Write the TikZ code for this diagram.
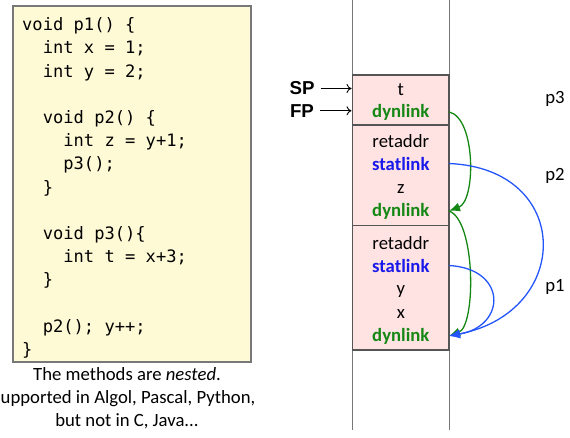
\documentclass[tikz,border=0pt]{standalone}
\usepackage{fontspec}
\setmainfont{Carlito}
\setmonofont{DejaVu Sans Mono}
\newfontfamily\arialfont{Liberation Sans}
\usetikzlibrary{arrows.meta}
\definecolor{codebg}{RGB}{255,250,214}
\definecolor{codeedge}{RGB}{120,120,120}
\definecolor{framebg}{RGB}{255,226,226}
\definecolor{frameedge}{RGB}{85,85,85}
\definecolor{dyngreen}{RGB}{20,135,20}
\definecolor{statblue}{RGB}{25,25,235}
\definecolor{linkblue}{RGB}{35,85,250}
\newcommand{\ind}{\phantom{xx}}
\begin{document}
\begin{tikzpicture}[x=1pt,y=-1pt,
  code/.style={anchor=base west,inner sep=0pt,font=\ttfamily\fontsize{17.1}{20}\selectfont},
  caption/.style={inner sep=0pt,font=\fontsize{18.7}{22}\selectfont},
  cell/.style={anchor=base,inner sep=0pt,minimum width=96pt,font=\fontsize{18.7}{22}\selectfont},
  dyn/.style={cell,text=dyngreen,font=\bfseries\fontsize{18.7}{22}\selectfont},
  stat/.style={cell,text=statblue,font=\bfseries\fontsize{18.7}{22}\selectfont},
  reg/.style={inner sep=0pt,font=\arialfont\bfseries\fontsize{18.7}{22}\selectfont},
  plabel/.style={inner sep=0pt,font=\fontsize{18.7}{22}\selectfont},
  regarrow/.style={-{To[length=5pt,width=9pt]},line width=0.9pt},
  dynarrow/.style={dyngreen,line width=1.3pt,-{Latex[length=11pt,width=9pt]}},
  statarrow/.style={linkblue,line width=1.3pt,-{Latex[length=11pt,width=9pt]}},
  framebox/.style={fill=framebg,draw=frameedge,line width=1.2pt}]
\useasboundingbox (0,0) rectangle (570,437);

% code box
\draw[fill=codebg,draw=codeedge,line width=1.2pt] (13,6) rectangle (251,362);
\node[code] (c1)  at (22,30.7)  {void p1() \{};
\node[code] (c2)  at (22,53.9)  {\ind int x = 1;};
\node[code] (c3)  at (22,77.1)  {\ind int y = 2;};
\node[code] (c5)  at (22,123.5) {\ind void p2() \{};
\node[code] (c6)  at (22,146.7) {\ind\ind int z = y+1;};
\node[code] (c7)  at (22,169.9) {\ind\ind p3();};
\node[code] (c8)  at (22,193.1) {\ind \}};
\node[code] (c10) at (22,239.5) {\ind void p3()\{};
\node[code] (c11) at (22,262.7) {\ind\ind int t = x+3;};
\node[code] (c12) at (22,285.9) {\ind \}};
\node[code] (c14) at (22,332.3) {\ind p2(); y++;};
\node[code] (c15) at (22,355.5) {\}};

% caption
\node[caption,anchor=base] (cap1) at (127,380.5) {The methods are \textit{nested}.};
\node[caption,anchor=base west] (cap2) at (0.5,403.5) {upported in Algol, Pascal, Python,};
\node[caption,anchor=base] (cap3) at (127,426.5) {but not in C, Java...};

% stack column
\draw[frameedge!80,line width=1pt] (352.7,0) -- (352.7,430);
\draw[frameedge!80,line width=1pt] (449,0) -- (449,430);
\draw[framebox] (352.7,75) rectangle (449,125);
\draw[framebox] (352.7,125) rectangle (449,225.5);
\draw[framebox] (352.7,225.5) rectangle (449,350);

% frame contents
\node[cell] (t)   at (400.8,95)  {t};
\node[dyn]  (dl1) at (400.8,117) {dynlink};
\node[cell] (ra2) at (400.8,147.5) {retaddr};
\node[stat] (sl2) at (400.8,170) {statlink};
\node[cell] (z)   at (400.8,193) {z};
\node[dyn]  (dl2) at (400.8,216) {dynlink};
\node[cell] (ra1) at (400.8,249.5) {retaddr};
\node[stat] (sl1) at (400.8,272) {statlink};
\node[cell] (y)   at (400.8,294.5) {y};
\node[cell] (x)   at (400.8,318) {x};
\node[dyn]  (dl3) at (400.8,341) {dynlink};

% SP / FP
\node[reg] (sp) at (302,88.5) {SP};
\node[reg] (fp) at (302,110.8) {FP};
\coordinate (spt) at (351.5,88.5);
\coordinate (fpt) at (351.5,110.8);
\draw[regarrow] (sp.east) ++(6,0) -- (spt);
\draw[regarrow] (fp.east) ++(6,0) -- (fpt);

% procedure labels
\node[plabel] (p3) at (555,99)  {p3};
\node[plabel] (p2) at (555,176) {p2};
\node[plabel] (p1) at (555,287) {p1};

% links
\draw[dynarrow] (dl1.east) .. controls +(27,6) and +(27,-10) .. (dl2.east);
\draw[dynarrow] (dl2.east) .. controls +(27,10) and +(27,-10) .. (dl3.east);
\draw[statarrow] (sl2.east) .. controls +(124,5) and +(124,-24) .. (dl3.east);
\draw[statarrow] (sl1.east) .. controls +(58,3) and +(58,-10) .. (dl3.east);
\end{tikzpicture}
\end{document}
